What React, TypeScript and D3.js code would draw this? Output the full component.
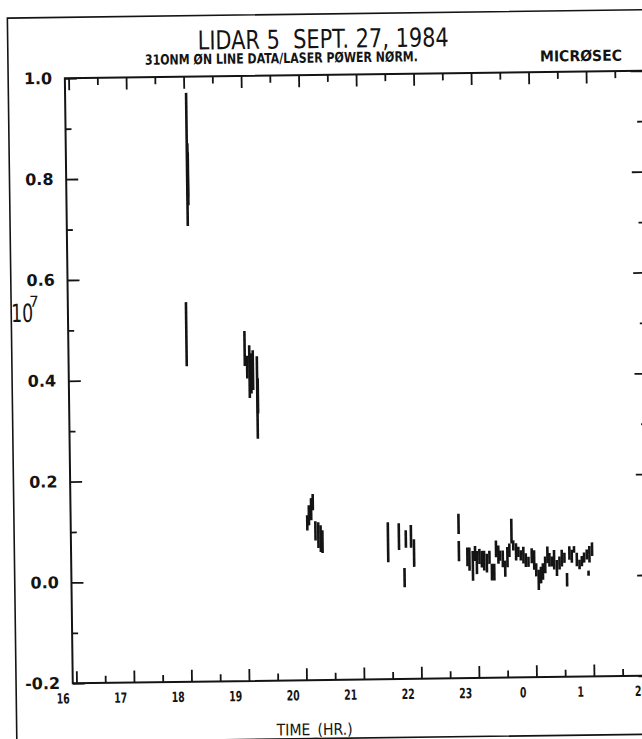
import { useEffect, useRef } from 'react';
import * as d3 from 'd3';

// each bar: [hour (24+ = after midnight), low, high] in units of 10^7
type Bar = [number, number, number];

const hourTicks = [16, 17, 18, 19, 20, 21, 22, 23, 24, 25, 26];
const hourLabels = ['16', '17', '18', '19', '20', '21', '22', '23', '0', '1', '2'];
const halfHourTicks = [16.5, 17.5, 18.5, 19.5, 20.5, 21.5, 22.5, 23.5, 24.5, 25.5];
const valueTicks = [-0.2, 0.0, 0.2, 0.4, 0.6, 0.8, 1.0];
const valueLabels = ['-0.2', '0.0', '0.2', '0.4', '0.6', '0.8', '1.0'];
const valueMinorTicks = [-0.1, 0.1, 0.3, 0.5, 0.7, 0.9];

const run18: Bar[] = [
  [18.04, 0.704, 0.968],
  [18.05, 0.761, 0.868],
  [18.055, 0.745, 0.85],
  [17.99, 0.426, 0.553],
];

const run19: Bar[] = [
  [19.0, 0.425, 0.494],
  [19.04, 0.4, 0.445],
  [19.08, 0.361, 0.466],
  [19.11, 0.37, 0.45],
  [19.14, 0.377, 0.456],
  [19.21, 0.28, 0.444],
  [19.22, 0.33, 0.4],
];

const run20: Bar[] = [
  [20.05, 0.097, 0.127],
  [20.08, 0.107, 0.147],
  [20.12, 0.117, 0.161],
  [20.15, 0.137, 0.169],
  [20.19, 0.077, 0.115],
  [20.24, 0.062, 0.113],
  [20.28, 0.054, 0.107],
  [20.31, 0.052, 0.097],
];

const run22: Bar[] = [
  [21.45, 0.032, 0.111],
  [21.64, 0.056, 0.109],
  [21.73, -0.018, 0.02],
  [21.76, 0.06, 0.095],
  [21.85, 0.06, 0.105],
  [21.9, 0.022, 0.077],
];

const run23: Bar[] = [
  [22.68, 0.086, 0.126],
  [22.68, 0.032, 0.072],
  [22.827, 0.022, 0.059],
  [22.862, 0.013, 0.059],
  [22.92, -0.007, 0.052],
  [22.961, 0.032, 0.062],
  [22.99, 0.006, 0.052],
  [23.036, 0.026, 0.056],
  [23.077, 0.019, 0.052],
  [23.117, 0.013, 0.052],
  [23.164, 0.009, 0.046],
  [23.21, 0.026, 0.052],
  [23.25, -0.007, 0.026],
  [23.291, -0.007, 0.026],
  [23.326, 0.039, 0.072],
  [23.366, 0.026, 0.062],
  [23.395, 0.032, 0.052],
  [23.442, 0.019, 0.052],
  [23.482, 0.0, 0.032],
  [23.523, 0.019, 0.059],
  [23.558, 0.039, 0.066],
  [23.598, 0.066, 0.115],
  [23.627, 0.052, 0.072],
  [23.674, 0.032, 0.066],
  [23.714, 0.039, 0.059],
  [23.755, 0.032, 0.052],
  [23.801, 0.026, 0.059],
  [23.842, 0.019, 0.046],
  [23.888, 0.019, 0.039],
  [23.946, 0.026, 0.056],
  [23.987, 0.013, 0.052],
  [24.021, 0.0, 0.026],
  [24.062, -0.027, 0.013],
  [24.103, -0.014, 0.019],
  [24.137, -0.007, 0.026],
  [24.178, 0.006, 0.039],
  [24.219, 0.026, 0.059],
  [24.253, 0.019, 0.046],
  [24.294, 0.019, 0.039],
  [24.334, 0.013, 0.052],
  [24.381, 0.0, 0.032],
  [24.427, 0.013, 0.039],
  [24.468, 0.019, 0.052],
  [24.514, 0.026, 0.046],
  [24.555, -0.021, 0.006],
  [24.601, 0.032, 0.059],
  [24.642, 0.026, 0.052],
  [24.682, 0.046, 0.059],
  [24.729, 0.019, 0.046],
  [24.775, 0.013, 0.032],
  [24.816, 0.019, 0.039],
  [24.856, 0.026, 0.046],
  [24.903, 0.032, 0.052],
  [24.93, 0.0, 0.01],
  [24.949, 0.026, 0.059],
  [24.996, 0.039, 0.066],
];

const INK = '#141414';

export default function App() {
  const svgRef = useRef<SVGSVGElement>(null);

  useEffect(() => {
    if (!svgRef.current) return;
    const svg = d3.select(svgRef.current);
    svg.selectAll('*').remove();

    // the scanned plot is tilted a little
    const g = svg.append('g').attr('transform', 'rotate(-0.75 321 370)');

    const plot = { left: 68.7, top: 75, bottom: 680, right: 660 };
    const x = d3.scaleLinear().domain([16, 26]).range([72.4, 647.4]);
    const y = d3.scaleLinear().domain([-0.2, 1.0]).range([680, 75]);

    // outer frame
    g.append('path')
      .attr('d', 'M700,14 H12 V738.5 H700')
      .attr('fill', 'none').attr('stroke', INK).attr('stroke-width', 1.6);

    // axis lines
    g.append('path')
      .attr('d', `M${plot.right},${plot.top} H${plot.left} V${plot.bottom} H${plot.right}`)
      .attr('fill', 'none').attr('stroke', INK).attr('stroke-width', 2);
    g.append('line')
      .attr('x1', x(26)).attr('x2', x(26)).attr('y1', plot.top).attr('y2', plot.bottom)
      .attr('stroke', INK).attr('stroke-width', 2);

    const styleAxis = (sel: d3.Selection<SVGGElement, unknown, null, undefined>) => {
      sel.select('.domain').remove();
      sel.selectAll('.tick line').attr('stroke', INK).attr('stroke-width', 1.8);
    };

    // bottom
    g.append('g').attr('transform', `translate(0,${plot.bottom})`)
      .call(d3.axisBottom(x).tickValues(hourTicks).tickSize(-12).tickSizeOuter(0)
        .tickFormat((_d, i) => hourLabels[i]))
      .call(styleAxis)
      .call(a => a.selectAll('.tick text')
        .attr('fill', INK).attr('y', 20).attr('dy', 0).attr('dx', -14)
        .attr('font-family', "'DejaVu Sans Condensed', 'DejaVu Sans', sans-serif")
        .attr('font-weight', 'bold').attr('font-size', 14)
        .attr('textLength', (_d, i) => hourLabels[i].length * 6.5)
        .attr('lengthAdjust', 'spacingAndGlyphs'));
    g.append('g').attr('transform', `translate(0,${plot.bottom})`)
      .call(d3.axisBottom(x).tickValues(halfHourTicks).tickSize(-7).tickSizeOuter(0).tickFormat(() => ''))
      .call(styleAxis);

    // top
    g.append('g').attr('transform', `translate(0,${plot.top})`)
      .call(d3.axisTop(x).tickValues(hourTicks).tickSize(-12).tickSizeOuter(0).tickFormat(() => ''))
      .call(styleAxis);
    g.append('g').attr('transform', `translate(0,${plot.top})`)
      .call(d3.axisTop(x).tickValues(halfHourTicks).tickSize(-7).tickSizeOuter(0).tickFormat(() => ''))
      .call(styleAxis);

    // left
    g.append('g').attr('transform', `translate(${plot.left},0)`)
      .call(d3.axisLeft(y).tickValues(valueTicks).tickSize(-12).tickSizeOuter(0).tickPadding(12.7)
        .tickFormat((_d, i) => valueLabels[i]))
      .call(styleAxis)
      .call(a => a.selectAll('.tick text')
        .attr('fill', INK).attr('dy', 5)
        .attr('font-family', "'DejaVu Sans', sans-serif")
        .attr('font-weight', 'bold').attr('font-size', 16));
    g.append('g').attr('transform', `translate(${plot.left},0)`)
      .call(d3.axisLeft(y).tickValues(valueMinorTicks).tickSize(-6).tickSizeOuter(0).tickFormat(() => ''))
      .call(styleAxis);

    // right
    g.append('g').attr('transform', `translate(${x(26)},0)`)
      .call(d3.axisRight(y).tickValues(valueTicks).tickSize(-13).tickSizeOuter(0).tickFormat(() => ''))
      .call(styleAxis);
    g.append('g').attr('transform', `translate(${x(26)},0)`)
      .call(d3.axisRight(y).tickValues(valueMinorTicks).tickSize(-7).tickSizeOuter(0).tickFormat(() => ''))
      .call(styleAxis);

    // data bars
    const bars = [...run18, ...run19, ...run20, ...run22, ...run23];
    g.append('g').selectAll('line')
      .data(bars).join('line')
      .attr('x1', d => x(d[0])).attr('x2', d => x(d[0]))
      .attr('y1', d => y(d[1])).attr('y2', d => y(d[2]))
      .attr('stroke', INK).attr('stroke-width', 2.6);

    // titles
    const plain = "'DejaVu Sans', 'Liberation Sans', sans-serif";
    const narrowBold = "'DejaVu Sans Condensed', 'DejaVu Sans', sans-serif";
    g.append('text')
      .attr('x', 202).attr('y', 48)
      .attr('font-family', plain).attr('font-size', 26)
      .attr('textLength', 251).attr('lengthAdjust', 'spacingAndGlyphs')
      .attr('fill', INK)
      .text('LIDAR 5\u00a0\u00a0SEPT. 27, 1984');
    g.append('text')
      .attr('x', 149).attr('y', 62.5)
      .attr('font-family', narrowBold)
      .attr('font-weight', 'bold').attr('font-size', 14)
      .attr('textLength', 273).attr('lengthAdjust', 'spacingAndGlyphs')
      .attr('fill', INK)
      .text('31ONM ØN LINE DATA/LASER PØWER NØRM.');
    g.append('text')
      .attr('x', 544).attr('y', 64.5)
      .attr('font-family', narrowBold)
      .attr('font-weight', 'bold').attr('font-size', 15)
      .attr('textLength', 82).attr('lengthAdjust', 'spacingAndGlyphs')
      .attr('fill', INK)
      .text('MICRØSEC');

    // y multiplier
    g.append('text')
      .attr('x', 12).attr('y', 318)
      .attr('font-family', plain).attr('font-size', 25)
      .attr('textLength', 22).attr('lengthAdjust', 'spacingAndGlyphs')
      .attr('fill', INK)
      .text('10');
    g.append('text')
      .attr('x', 30).attr('y', 303)
      .attr('font-family', plain).attr('font-size', 15)
      .attr('fill', INK)
      .text('7');

    // x title
    g.append('text')
      .attr('x', 272).attr('y', 735)
      .attr('font-family', plain).attr('font-size', 16)
      .attr('textLength', 76).attr('lengthAdjust', 'spacingAndGlyphs')
      .attr('fill', INK)
      .text('TIME_(HR.)');
  }, []);

  return (
    <svg
      ref={svgRef}
      width={642}
      height={739}
      style={{ position: 'absolute', left: 0, top: 0, background: '#fff', display: 'block' }}
    />
  );
}
